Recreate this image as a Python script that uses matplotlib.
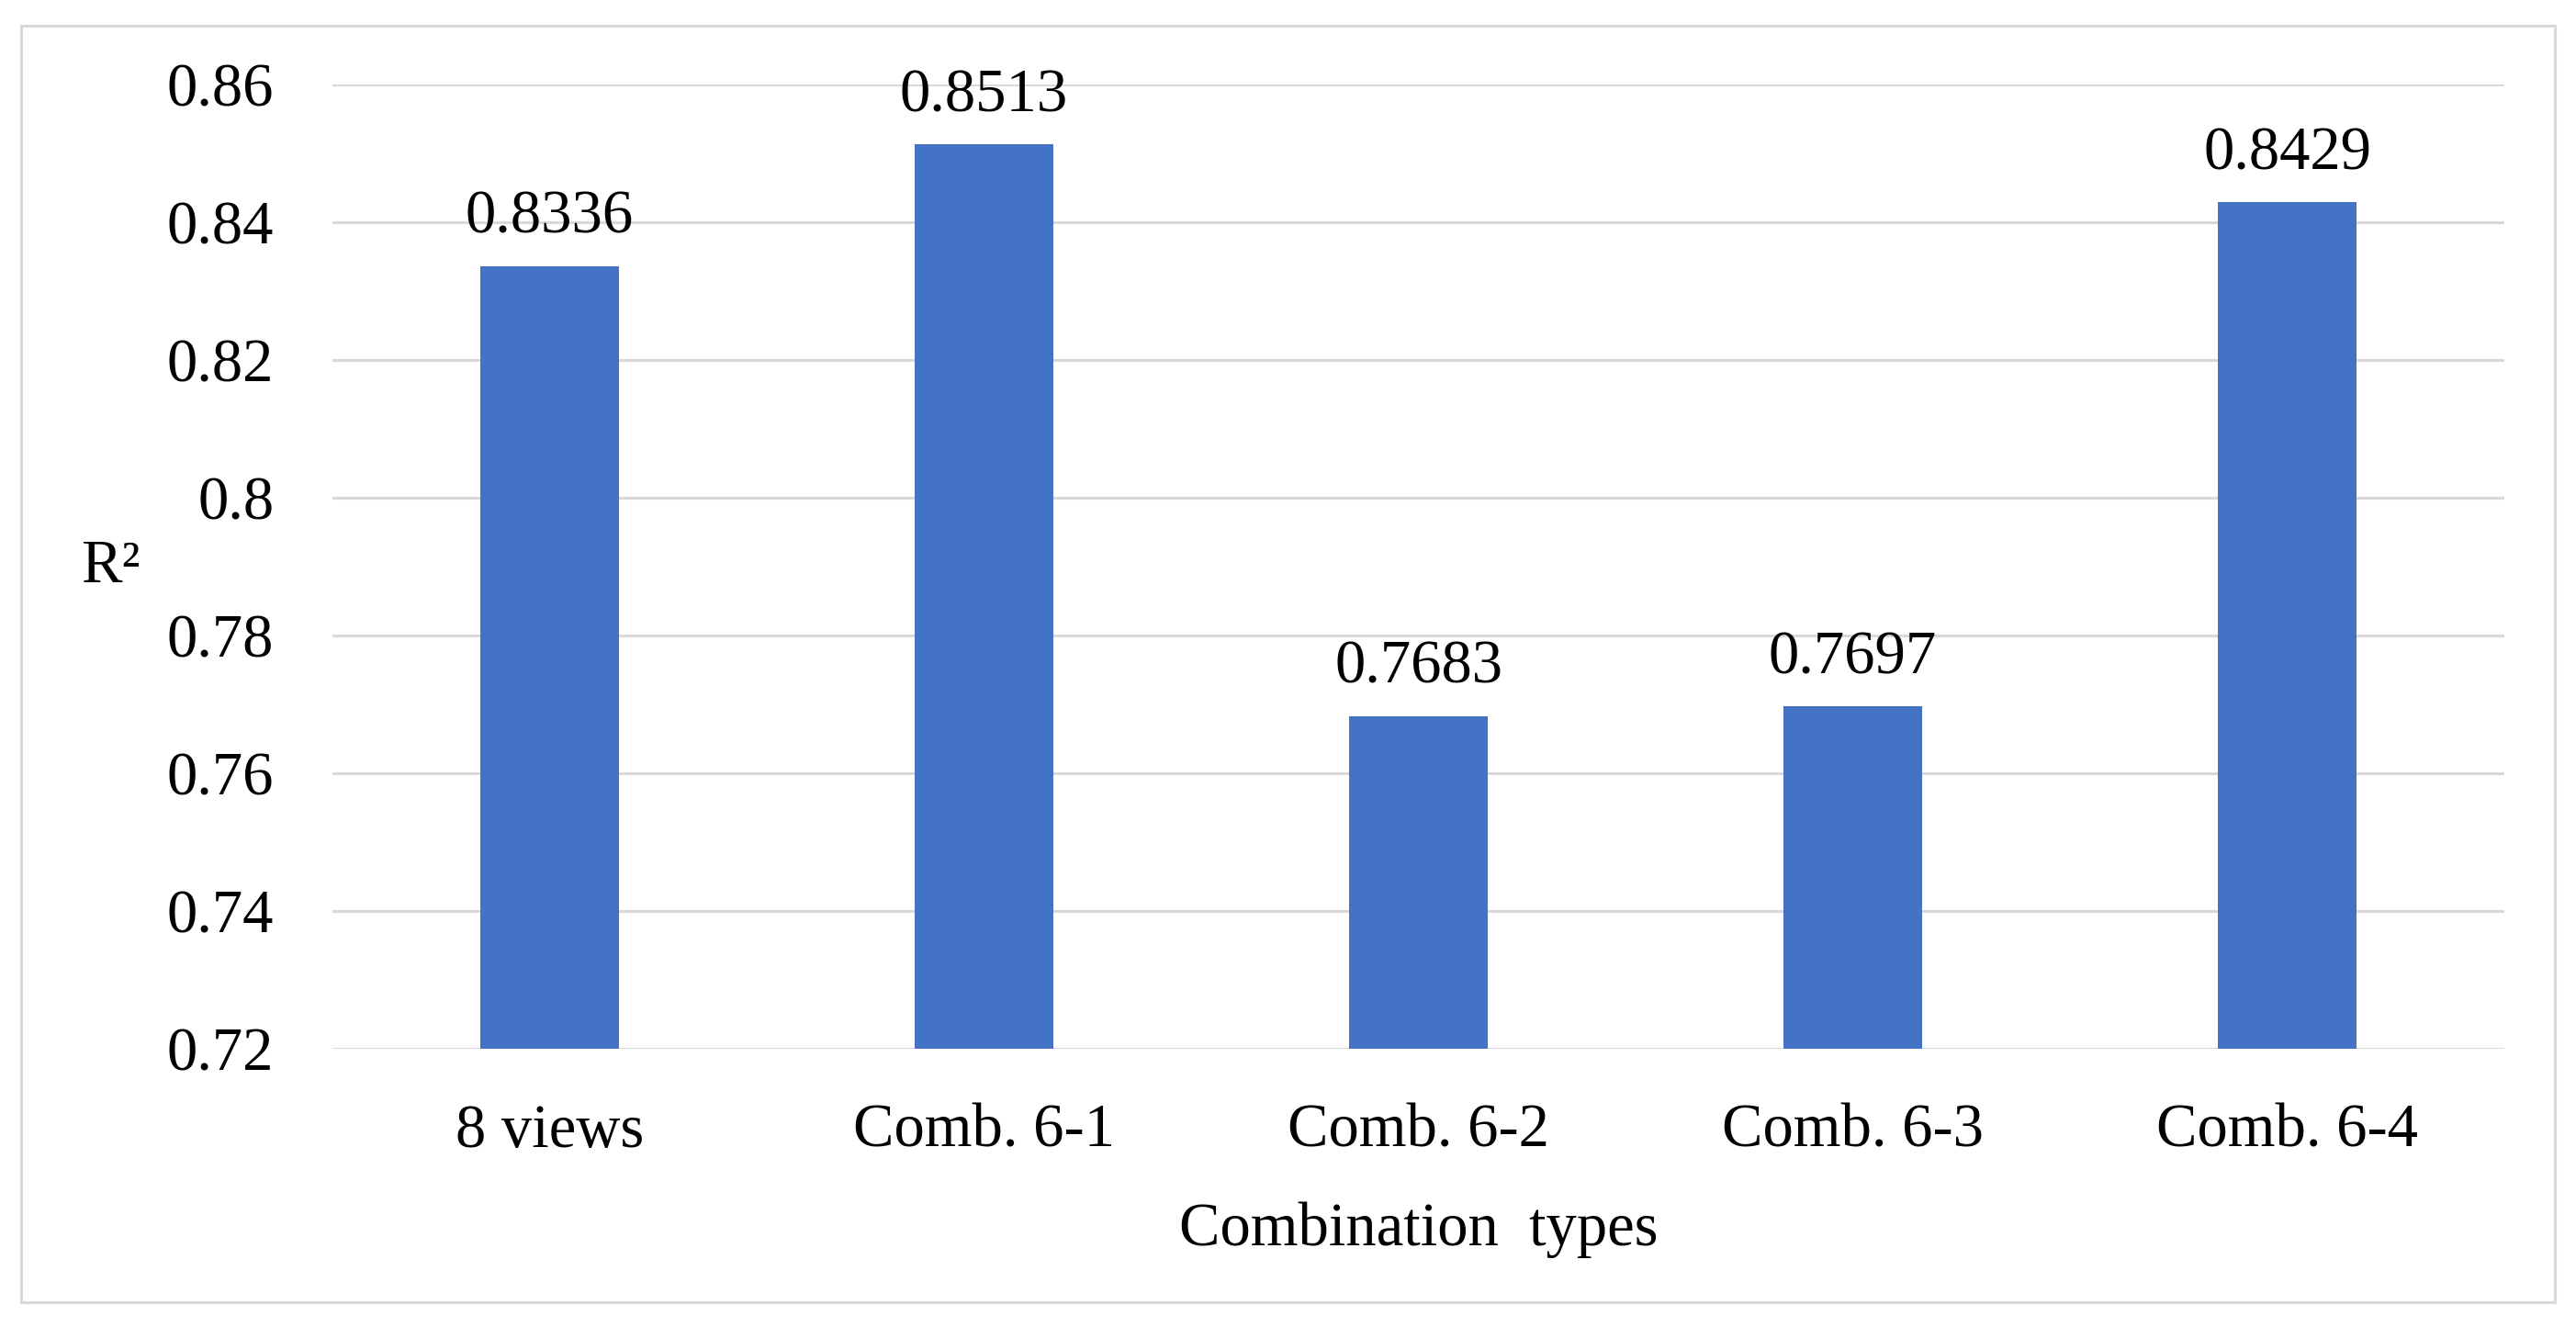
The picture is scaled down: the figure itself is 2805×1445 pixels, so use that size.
import numpy as np
import matplotlib
matplotlib.use("Agg")
from matplotlib import pyplot as plt
from matplotlib.patches import Rectangle

plt.rcParams['font.family'] = ['Liberation Serif', 'DejaVu Serif']

categories = ['8 views', 'Comb. 6-1', 'Comb. 6-2', 'Comb. 6-3', 'Comb. 6-4']
r2_values = [0.8336, 0.8513, 0.7683, 0.7697, 0.8429]
y_ticks = [0.72, 0.74, 0.76, 0.78, 0.80, 0.82, 0.84, 0.86]

myFontSize = 48
barColor = '#4472C4'
gridColor = '#D9D9D9'

fig = plt.figure(figsize=(28.05, 14.45), dpi=100)
ax = fig.add_axes([0.1291, 0.2097, 0.9722 - 0.1291, 0.9363 - 0.2097])

x = np.arange(len(categories))
bars = ax.bar(x, r2_values, width=0.32, color=barColor, zorder=3)

for b, v in zip(bars, r2_values):
    ax.annotate('%.4f' % v, (b.get_x() + b.get_width() / 2, v),
                xytext=(0, 16), textcoords='offset points',
                ha='center', va='bottom', fontsize=myFontSize, color='k')

ax.set_xlim(-0.5, len(categories) - 0.5)
ax.set_ylim(y_ticks[0], y_ticks[-1])
ax.set_yticks(y_ticks)
ax.set_yticklabels(['%g' % t for t in y_ticks])
ax.set_xticks(x)
ax.set_xticklabels(categories)

ax.tick_params(axis='x', length=0, pad=43, labelsize=myFontSize)
ax.tick_params(axis='y', length=0, pad=46, labelsize=myFontSize)

ax.grid(True, axis='y', color=gridColor, linestyle='solid', linewidth=2.2, zorder=0)
ax.set_axisbelow(True)
for s in ax.spines.values():
    s.set_visible(False)

ax.set_xlabel('Combination  types', fontsize=myFontSize, labelpad=33)
ax.set_ylabel('R\u00b2', fontsize=myFontSize, rotation=0, ha='right', va='center', labelpad=21)

# light gray frame around the whole chart
fig.patches.append(Rectangle((0.0082, 0.0187), 0.9918 - 0.0082, 0.9806 - 0.0187,
                             transform=fig.transFigure, fill=False,
                             edgecolor=gridColor, linewidth=2.2))

fig.savefig('out.png', dpi=100, facecolor='white')
